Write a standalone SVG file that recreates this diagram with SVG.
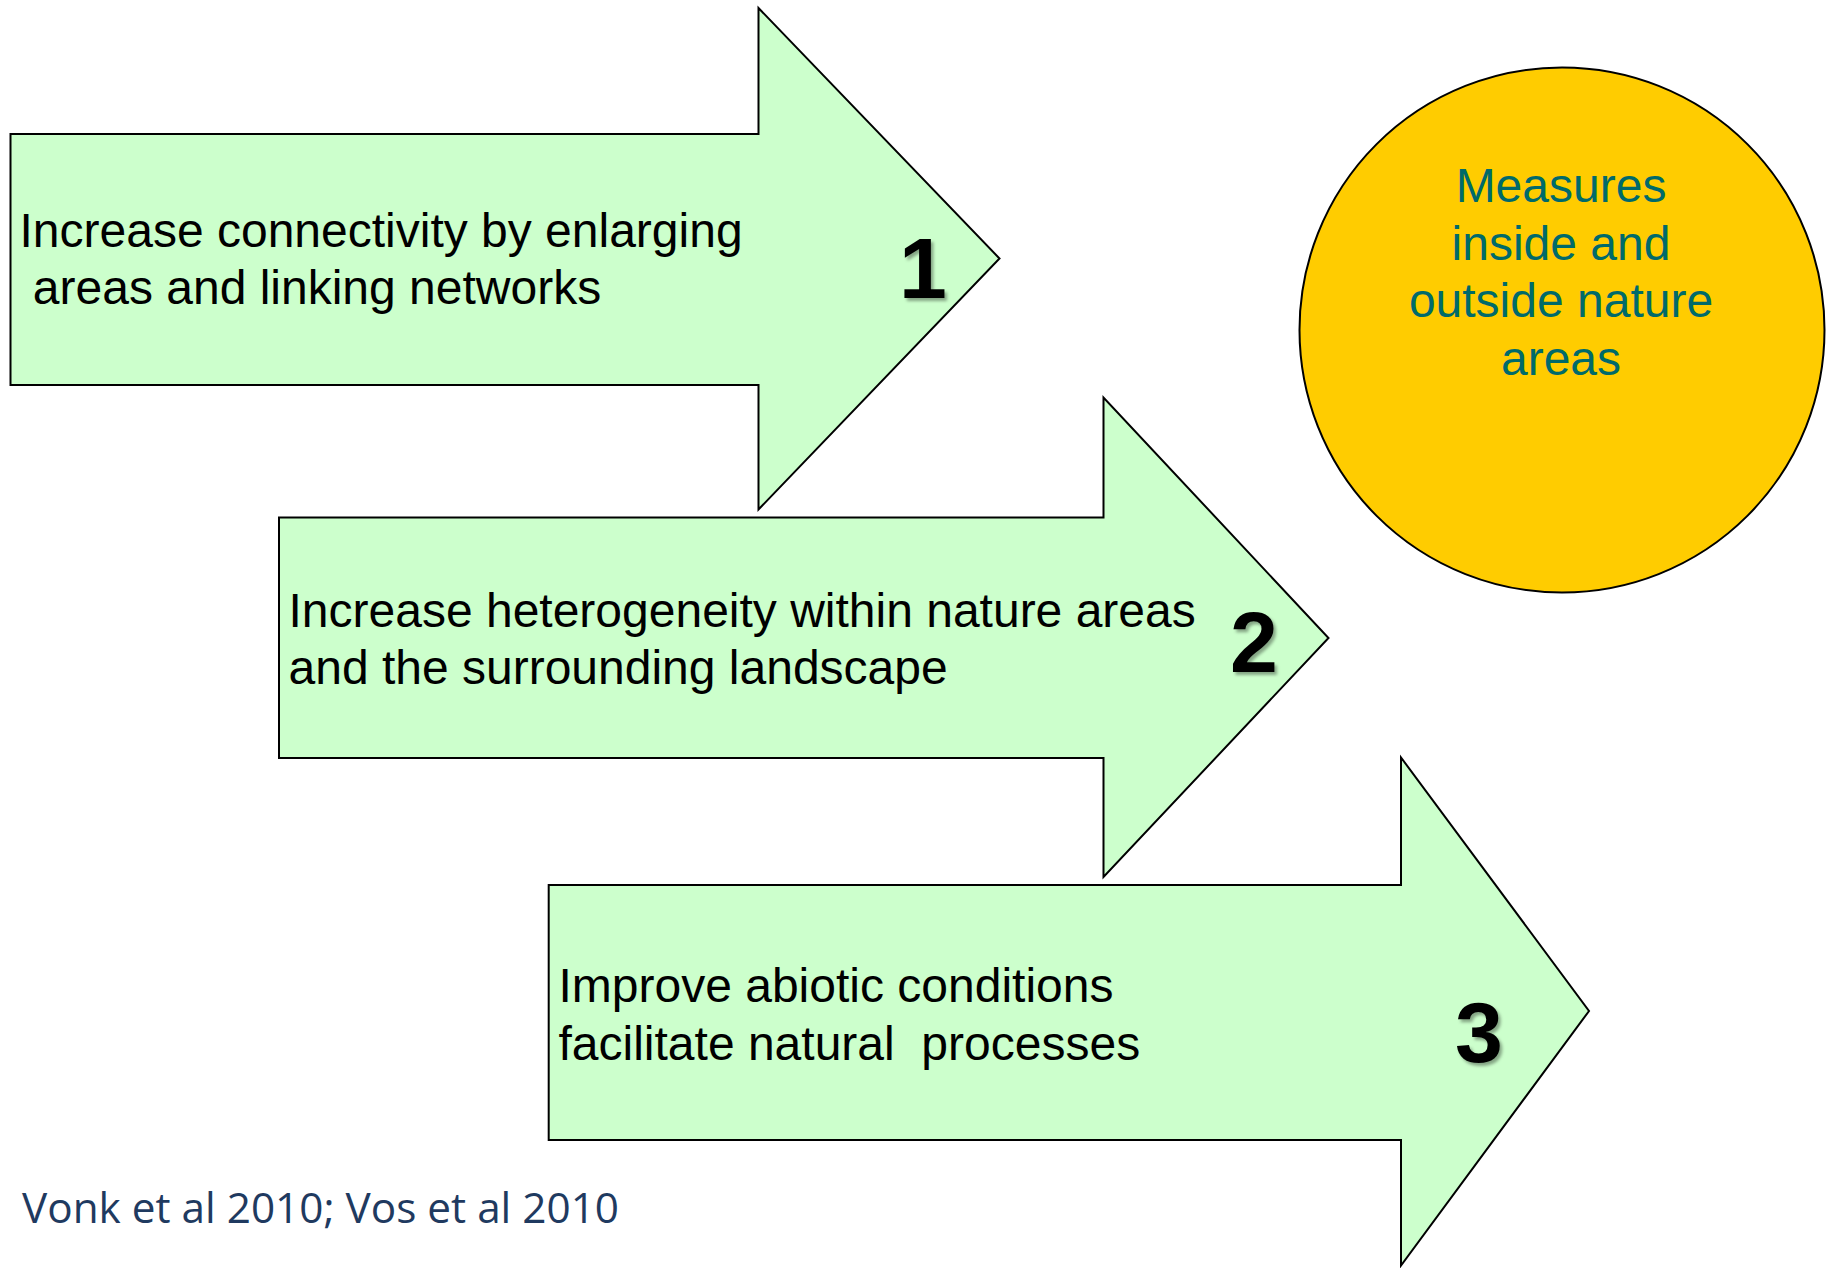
<svg xmlns="http://www.w3.org/2000/svg" width="1827" height="1268" viewBox="0 0 1827 1268">
  <style>
    .arrow { fill: #CCFFCC; stroke: #000000; stroke-width: 2; stroke-linejoin: miter; }
    .lbl { font-family: "Liberation Sans", Arial, sans-serif; font-size: 48px; fill: #000000; white-space: pre; }
    .num { font-family: "Liberation Sans", Arial, sans-serif; font-size: 86px; font-weight: bold; fill: #000000; text-anchor: middle; filter: url(#shadow); }
    .circ { fill: #FFCC00; stroke: #000000; stroke-width: 2; }
    .ctext { font-family: "Liberation Sans", Arial, sans-serif; font-size: 48px; fill: #006A6A; text-anchor: middle; }
    .cite { font-family: "Open Sans", "Noto Sans", sans-serif; font-size: 42px; fill: #1F3A60; }
  </style>
  <defs>
    <filter id="shadow" x="-30%" y="-30%" width="160%" height="160%">
      <feDropShadow dx="2.5" dy="3" stdDeviation="1.5" flood-color="#000000" flood-opacity="0.35"/>
    </filter>
  </defs>
  <rect x="0" y="0" width="1827" height="1268" fill="#FFFFFF"/>

  <g id="arrow1">
    <polygon class="arrow" points="10.5,134 758.5,134 758.5,8 999.5,258.5 758.5,509.5 758.5,385 10.5,385"/>
    <text class="lbl" x="19.5" y="247">Increase connectivity by enlarging</text>
    <text class="lbl" x="19.5" y="304" xml:space="preserve"> areas and linking networks</text>
    <text class="num" x="923" y="298">1</text>
  </g>

  <g id="arrow2">
    <polygon class="arrow" points="279,517.5 1103.5,517.5 1103.5,397.5 1328.5,638 1103.5,877 1103.5,758 279,758"/>
    <text class="lbl" x="288.5" y="626.5">Increase heterogeneity within nature areas</text>
    <text class="lbl" x="288.5" y="684">and the surrounding landscape</text>
    <text class="num" x="1254" y="672">2</text>
  </g>

  <g id="arrow3">
    <polygon class="arrow" points="548.7,885 1401,885 1401,757.5 1589,1011 1401,1265.5 1401,1140 548.7,1140"/>
    <text class="lbl" x="558.5" y="1002">Improve abiotic conditions</text>
    <text class="lbl" x="558.5" y="1059.5" xml:space="preserve">facilitate natural  processes</text>
    <text class="num" x="1479" y="1062">3</text>
  </g>

  <g id="circle">
    <circle class="circ" cx="1562" cy="330" r="262.5"/>
    <text class="ctext" x="1561" y="201.5">Measures</text>
    <text class="ctext" x="1561" y="259.5">inside and</text>
    <text class="ctext" x="1561" y="317">outside nature</text>
    <text class="ctext" x="1561" y="374.5">areas</text>
  </g>

  <g id="connectors"/>

  <g id="citation">
    <text class="cite" x="22" y="1222.5" textLength="597" lengthAdjust="spacingAndGlyphs">Vonk et al 2010; Vos et al 2010</text>
  </g>
</svg>
